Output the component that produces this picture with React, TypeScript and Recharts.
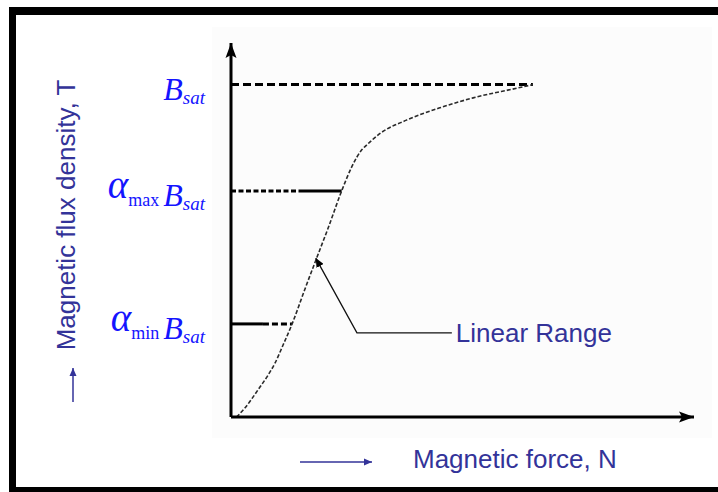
import { ComposedChart, Line, XAxis, YAxis, ReferenceDot } from 'recharts';

// B-H magnetisation curve (field H in arbitrary units, B as a fraction of Bsat)
const fieldH = [1.2, 3.0, 5.8, 8.0, 9.5, 11.2, 13.2, 16.0, 18.5, 21.0, 23.9, 26.1, 28.2, 29.3, 32.2, 37.9, 45.1, 52.3, 61.7, 65.2];
const fluxB = [0, 0.027, 0.081, 0.126, 0.162, 0.215, 0.28, 0.386, 0.478, 0.569, 0.68, 0.753, 0.803, 0.818, 0.853, 0.893, 0.93, 0.96, 0.989, 1.0];

// saturation level and the two fractions of it
const SAT_LEVEL = 1;
const ALPHA_MAX = 0.68;
const ALPHA_MIN = 0.28;
const levelTicks = [ALPHA_MIN, ALPHA_MAX, SAT_LEVEL];
const levelPrefix: Record<string, string> = { '0.28': 'min', '0.68': 'max', '1': '' };

// where each guide line changes style / meets the curve
const satEndH = 65.2;
const maxBreakH = 14.9;
const maxEndH = 23.9;
const minBreakH = 6.9;
const minEndH = 13.2;

// "Linear Range" pointer: label end, elbow, tip on the curve
const pointerH = [47.7, 27.2, 18.3];
const pointerB = [0.253, 0.253, 0.478];

const curve = fieldH.map((h, i) => ({ h, b: fluxB[i] }));
const pointer = pointerH.map((h, i) => ({ h, b: pointerB[i] }));
const seg = (h0: number, h1: number, b: number) => [{ h: h0, b }, { h: h1, b }];

const BLUE = '#1414ff';
const NAVY = '#333399';
const SANS = '"Liberation Sans", Arial, sans-serif';
const SERIF = '"Liberation Serif", "Times New Roman", serif';

function LevelTick({ x, y, payload }: any) {
    const sub = levelPrefix[String(payload.value)];
    return (
        <text x={x} y={y + 15} textAnchor="end" fill={BLUE} fontFamily={SERIF}>
            {sub ? (
                <>
                    <tspan fontStyle="italic" fontSize={39} dy={-8}>α</tspan>
                    <tspan fontSize={18} dy={8}>{sub}</tspan>
                </>
            ) : null}
            <tspan fontStyle="italic" fontSize={32} dx={sub ? 4 : 0}>B</tspan>
            <tspan fontStyle="italic" fontSize={19} dy={4}>sat</tspan>
        </text>
    );
}

function FluxTitle({ viewBox }: any) {
    const { x, y } = viewBox;
    const bx = x + 55;
    const cy = y + 172;
    return (
        <g>
            <text x={bx} y={cy} transform={`rotate(-90, ${bx}, ${cy})`} textAnchor="middle"
                fill={NAVY} fontSize={26} fontFamily={SANS}>
                Magnetic flux density, T
            </text>
            <line x1={x + 53} y1={y + 359} x2={x + 53} y2={y + 325} stroke={NAVY} strokeWidth={1.5} markerEnd="url(#blueHead)" />
        </g>
    );
}

function ForceTitle({ viewBox }: any) {
    const { x, y } = viewBox;
    return (
        <g>
            <line x1={x + 69} y1={y + 45} x2={x + 141} y2={y + 45} stroke={NAVY} strokeWidth={1.5} markerEnd="url(#blueHead)" />
            <text x={x + 182} y={y + 51} fill={NAVY} fontSize={26} fontFamily={SANS}>
                Magnetic force, N
            </text>
        </g>
    );
}

export default function App() {
    return (
        <div style={{ position: 'fixed', left: 0, top: 0, width: 718, height: 492, background: '#fff', overflow: 'hidden' }}>
            <svg width={0} height={0} style={{ position: 'absolute' }}>
                <defs>
                    <marker id="axisHead" markerUnits="userSpaceOnUse" markerWidth={16} markerHeight={12}
                        refX={15} refY={6} orient="auto-start-reverse">
                        <path d="M0,0.5 L15,6 L0,11.5 L3,6 z" fill="#000" />
                    </marker>
                    <marker id="thinHead" markerUnits="userSpaceOnUse" markerWidth={10} markerHeight={8}
                        refX={9} refY={4} orient="auto">
                        <path d="M0,0 L9,4 L0,8 z" fill="#000" />
                    </marker>
                    <marker id="blueHead" markerUnits="userSpaceOnUse" markerWidth={9} markerHeight={8}
                        refX={8} refY={4} orient="auto">
                        <path d="M0,0.5 L8,4 L0,7.5 z" fill={NAVY} />
                    </marker>
                </defs>
            </svg>

            {/* faint panel behind the plot */}
            <div style={{ position: 'absolute', left: 212, top: 27, width: 500, height: 411, background: '#fcfcfc' }} />

            <div style={{ position: 'absolute', left: 0, top: 0 }}>
                <ComposedChart width={718} height={492} margin={{ top: 43, right: 24, bottom: 0, left: 20 }}>
                    <XAxis
                        type="number"
                        dataKey="h"
                        domain={[0, 100]}
                        allowDataOverflow
                        height={75}
                        tick={false}
                        tickLine={false}
                        axisLine={{ stroke: '#000', strokeWidth: 3, markerEnd: 'url(#axisHead)' }}
                        label={{ content: ForceTitle }}
                    />
                    <YAxis
                        type="number"
                        dataKey="b"
                        domain={[0, 1.125]}
                        allowDataOverflow
                        width={211}
                        ticks={levelTicks}
                        interval={0}
                        tickSize={0}
                        tickMargin={26}
                        tickLine={false}
                        tick={<LevelTick />}
                        axisLine={{ stroke: '#000', strokeWidth: 3, markerStart: 'url(#axisHead)' }}
                        label={{ content: FluxTitle }}
                    />

                    {/* saturation and alpha guide lines */}
                    <Line data={seg(0, satEndH, SAT_LEVEL)} dataKey="b" type="linear" stroke="#000" strokeWidth={3}
                        strokeDasharray="8 4" dot={false} activeDot={false} isAnimationActive={false} />
                    <Line data={seg(0, maxBreakH, ALPHA_MAX)} dataKey="b" type="linear" stroke="#000" strokeWidth={3}
                        strokeDasharray="5 2.5" dot={false} activeDot={false} isAnimationActive={false} />
                    <Line data={seg(maxBreakH, maxEndH, ALPHA_MAX)} dataKey="b" type="linear" stroke="#000" strokeWidth={3}
                        dot={false} activeDot={false} isAnimationActive={false} />
                    <Line data={seg(0, minBreakH, ALPHA_MIN)} dataKey="b" type="linear" stroke="#000" strokeWidth={3}
                        dot={false} activeDot={false} isAnimationActive={false} />
                    <Line data={seg(minBreakH, minEndH, ALPHA_MIN)} dataKey="b" type="linear" stroke="#000" strokeWidth={3}
                        strokeDasharray="6 3" dot={false} activeDot={false} isAnimationActive={false} />

                    {/* magnetisation curve */}
                    <Line data={curve} dataKey="b" type="monotone" stroke="#2a2a2a" strokeWidth={1.6}
                        strokeDasharray="4 2" dot={false} activeDot={false} isAnimationActive={false} />

                    {/* pointer to the linear part */}
                    <Line data={pointer} dataKey="b" type="linear" stroke="#111" strokeWidth={1.3}
                        markerEnd="url(#thinHead)" dot={false} activeDot={false} isAnimationActive={false} />
                    <ReferenceDot x={pointerH[0]} y={pointerB[0]} r={0} stroke="none"
                        label={{ value: 'Linear Range', position: 'right', offset: 4, fill: NAVY, fontSize: 26, fontFamily: SANS }} />
                </ComposedChart>
            </div>

            {/* slide frame: top, left and bottom rules */}
            <div style={{
                position: 'absolute', left: 9, top: 7, width: 720, height: 485, boxSizing: 'border-box',
                borderTop: '8px solid #000', borderLeft: '7px solid #000', borderBottom: '5px solid #000',
            }} />
        </div>
    );
}
